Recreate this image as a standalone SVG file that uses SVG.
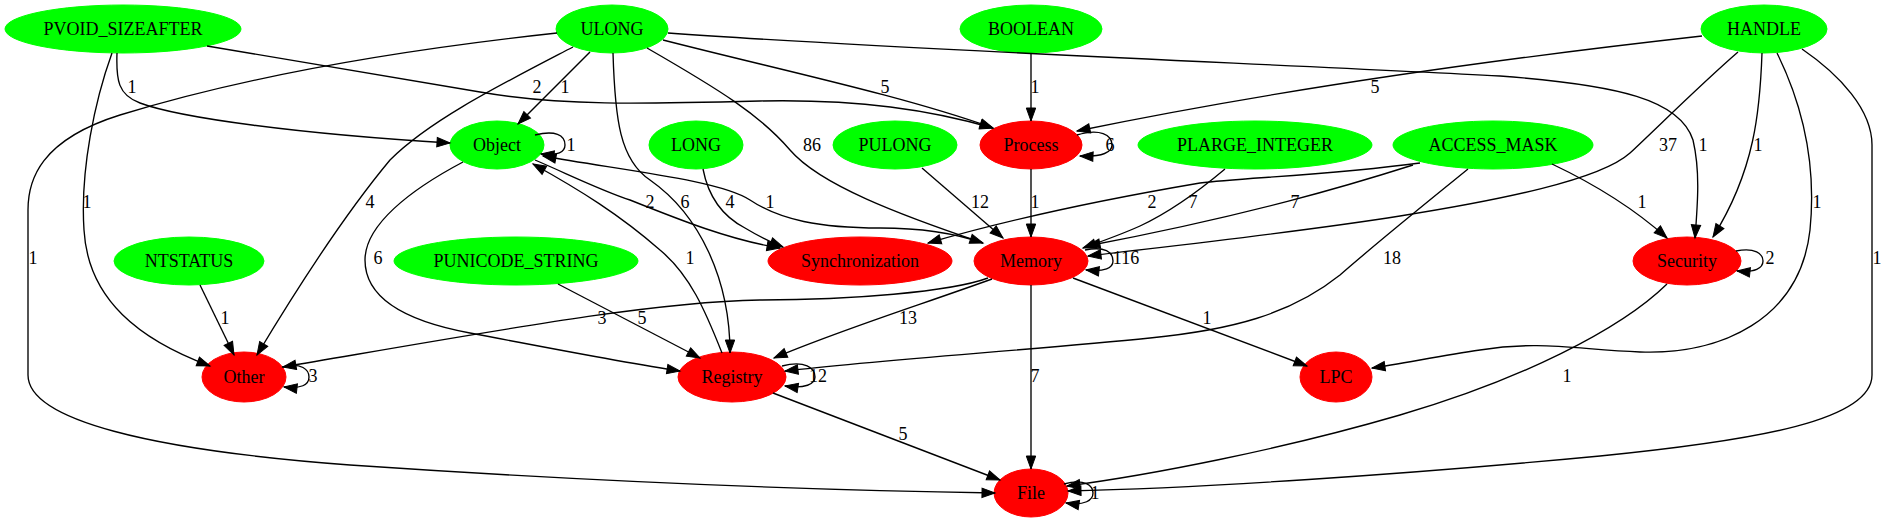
<svg xmlns="http://www.w3.org/2000/svg" width="1887" height="523" viewBox="0 0 1887 523">
<style>
.g{fill:#00ff00;stroke:#00ff00}
.r{fill:#ff0000;stroke:#ff0000}
text{font-family:"Liberation Serif","Times New Roman",serif;font-size:18px;fill:#000;text-anchor:middle}
#edges path{fill:none;stroke:#000;stroke-width:1.35}
#edges path.e{marker-end:url(#ah)}
</style>
<defs>
<marker id="ah" markerWidth="14" markerHeight="10" refX="13" refY="4.7" orient="auto" markerUnits="userSpaceOnUse" overflow="visible"><path d="M0,0 L13,4.7 L0,9.4 z" fill="#000" stroke="#000" stroke-width="1"/></marker>
</defs>
<rect width="1887" height="523" fill="#fff"/>
<g id="n_PVOID_SIZEAFTER"><ellipse class="g" cx="123" cy="29" rx="118" ry="24"/><text x="123" y="35">PVOID_SIZEAFTER</text></g>
<g id="n_ULONG"><ellipse class="g" cx="612" cy="29" rx="56" ry="24"/><text x="612" y="35">ULONG</text></g>
<g id="n_BOOLEAN"><ellipse class="g" cx="1031" cy="29" rx="71" ry="24"/><text x="1031" y="35">BOOLEAN</text></g>
<g id="n_HANDLE"><ellipse class="g" cx="1764" cy="29" rx="63" ry="24"/><text x="1764" y="35">HANDLE</text></g>
<g id="n_Object"><ellipse class="g" cx="497" cy="145" rx="47" ry="24"/><text x="497" y="151">Object</text></g>
<g id="n_LONG"><ellipse class="g" cx="696" cy="145" rx="47" ry="24"/><text x="696" y="151">LONG</text></g>
<g id="n_PULONG"><ellipse class="g" cx="895" cy="145" rx="62" ry="24"/><text x="895" y="151">PULONG</text></g>
<g id="n_Process"><ellipse class="r" cx="1031" cy="145" rx="51" ry="24"/><text x="1031" y="151">Process</text></g>
<g id="n_PLARGE_INTEGER"><ellipse class="g" cx="1255" cy="145" rx="117" ry="24"/><text x="1255" y="151">PLARGE_INTEGER</text></g>
<g id="n_ACCESS_MASK"><ellipse class="g" cx="1493" cy="145" rx="100" ry="24"/><text x="1493" y="151">ACCESS_MASK</text></g>
<g id="n_NTSTATUS"><ellipse class="g" cx="189" cy="261" rx="75" ry="24"/><text x="189" y="267">NTSTATUS</text></g>
<g id="n_PUNICODE_STRING"><ellipse class="g" cx="516" cy="261" rx="122" ry="24"/><text x="516" y="267">PUNICODE_STRING</text></g>
<g id="n_Synchronization"><ellipse class="r" cx="860" cy="261" rx="92" ry="24"/><text x="860" y="267">Synchronization</text></g>
<g id="n_Memory"><ellipse class="r" cx="1031" cy="261" rx="57" ry="24"/><text x="1031" y="267">Memory</text></g>
<g id="n_Security"><ellipse class="r" cx="1687" cy="261" rx="54" ry="24"/><text x="1687" y="267">Security</text></g>
<g id="n_Other"><ellipse class="r" cx="244" cy="377" rx="42" ry="25"/><text x="244" y="383">Other</text></g>
<g id="n_Registry"><ellipse class="r" cx="732" cy="377" rx="54" ry="25"/><text x="732" y="383">Registry</text></g>
<g id="n_LPC"><ellipse class="r" cx="1336" cy="377" rx="36" ry="25"/><text x="1336" y="383">LPC</text></g>
<g id="n_File"><ellipse class="r" cx="1031" cy="493" rx="37" ry="24"/><text x="1031" y="499">File</text></g>
<g id="edges">
<path class="e" d="M117,53 C116,80 118,95 140,103 C180,118 300,134 450,143"/>
<path class="e" d="M207,46 L480,92 C560,106 640,104 760,101 C860,99 930,110 993,128"/>
<path class="e" d="M112,53 C95,100 80,170 84,230 C88,300 140,340 210,366"/>
<path class="e" d="M557,33 C400,50 250,75 120,115 C40,140 28,180 28,210 L28,375 C28,420 150,450 350,465 C600,482 800,490 995,493"/>
<path class="e" d="M573,47 C500,85 430,120 390,160 C340,220 290,300 257,355"/>
<path class="e" d="M590,52 L518,124"/>
<path class="e" d="M613,53 C615,120 620,160 650,180 C700,215 730,280 730,353"/>
<path class="e" d="M647,48 C720,90 760,115 790,150 C820,185 900,215 983,243"/>
<path class="e" d="M663,40 C780,70 900,95 993,128"/>
<path class="e" d="M668,33 C900,50 1300,65 1500,76 C1620,85 1680,100 1693,140 C1700,170 1698,200 1695,238"/>
<path class="e" d="M1031,53 L1031,121"/>
<path class="e" d="M1702,36 C1550,53 1300,85 1077,131"/>
<path class="e" d="M1738,52 C1700,85 1660,125 1630,153 C1600,180 1500,200 1400,216 C1300,232 1180,245 1088,256"/>
<path class="e" d="M1762,53 C1760,110 1755,170 1713,237"/>
<path class="e" d="M1777,53 C1810,120 1815,180 1810,230 C1800,320 1720,355 1640,352 C1580,350 1540,340 1480,350 C1440,356 1400,364 1372,368"/>
<path class="e" d="M1802,49 C1840,75 1872,110 1872,145 L1872,375 C1872,420 1760,440 1600,456 C1400,475 1200,488 1068,491"/>
<path class="e" d="M535,135 C555,130 565,135 565,145 C565,152 558,156 541,154"/>
<path class="e" d="M535,160 C570,175 600,190 630,200 C680,220 730,240 780,248"/>
<path class="e" d="M463,162 C410,190 365,225 365,260 C365,295 400,320 470,333 C560,350 620,362 680,371"/>
<path class="e" d="M983,243 C960,235 930,228 880,228 C820,228 780,220 750,200 C720,180 620,170 543,156"/>
<path class="e" d="M703,169 C708,195 720,215 745,228 C760,237 770,242 783,247"/>
<path class="e" d="M922,168 L1003,238"/>
<path class="e" d="M1077,135 C1100,128 1112,135 1112,145 C1112,152 1103,157 1080,156"/>
<path class="e" d="M1031,169 L1031,237"/>
<path class="e" d="M1225,169 C1200,190 1170,212 1140,226 C1120,235 1100,242 1083,248"/>
<path class="e" d="M1413,165 C1350,185 1250,215 1087,246"/>
<path class="e" d="M1420,163 C1330,175 1240,178 1200,183 C1100,200 1000,222 928,243"/>
<path class="e" d="M1552,164 C1590,182 1630,205 1667,238"/>
<path class="e" d="M1468,169 C1430,200 1380,240 1340,275 C1290,315 1230,330 1150,338 C1030,350 880,360 785,371"/>
<path class="e" d="M1085,250 C1105,246 1113,252 1113,261 C1113,268 1105,272 1086,270"/>
<path class="e" d="M988,278 C950,292 850,300 760,300 C650,302 500,330 283,367"/>
<path class="e" d="M992,279 C920,305 840,330 774,358"/>
<path class="e" d="M1073,278 L1307,366"/>
<path class="e" d="M1031,285 L1031,469"/>
<path class="e" d="M782,366 C805,360 815,368 815,377 C815,384 805,389 785,386"/>
<path class="e" d="M722,353 C705,310 690,275 660,250 C620,215 580,190 533,164"/>
<path class="e" d="M773,393 L1000,480"/>
<path class="e" d="M200,285 L234,355"/>
<path class="e" d="M558,284 L700,358"/>
<path class="e" d="M1736,251 C1755,247 1763,254 1763,261 C1763,268 1755,273 1737,271"/>
<path class="e" d="M1667,284 C1620,330 1520,380 1400,415 C1280,450 1150,475 1067,486"/>
<path class="e" d="M282,367 C302,362 309,370 309,377 C309,385 301,389 284,387"/>
<path class="e" d="M1064,484 C1085,478 1093,486 1093,493 C1093,500 1085,506 1066,503"/>
</g>
<g id="labels">
<text x="132" y="93">1</text>
<text x="87" y="208">1</text>
<text x="33" y="264">1</text>
<text x="370" y="208">4</text>
<text x="378" y="264">6</text>
<text x="537" y="93">2</text>
<text x="565" y="93">1</text>
<text x="571" y="151">1</text>
<text x="650" y="208">2</text>
<text x="685" y="208">6</text>
<text x="730" y="208">4</text>
<text x="770" y="208">1</text>
<text x="812" y="151">86</text>
<text x="885" y="93">5</text>
<text x="690" y="264">1</text>
<text x="1035" y="93">1</text>
<text x="1375" y="93">5</text>
<text x="1110" y="151">6</text>
<text x="980" y="208">12</text>
<text x="1035" y="208">1</text>
<text x="1152" y="208">2</text>
<text x="1193" y="208">7</text>
<text x="1295" y="208">7</text>
<text x="1126" y="264">116</text>
<text x="1392" y="264">18</text>
<text x="1668" y="151">37</text>
<text x="1703" y="151">1</text>
<text x="1758" y="151">1</text>
<text x="1642" y="208">1</text>
<text x="1817" y="208">1</text>
<text x="1877" y="264">1</text>
<text x="1770" y="264">2</text>
<text x="225" y="324">1</text>
<text x="313" y="382">3</text>
<text x="602" y="324">3</text>
<text x="642" y="324">5</text>
<text x="908" y="324">13</text>
<text x="818" y="382">12</text>
<text x="1207" y="324">1</text>
<text x="1035" y="382">7</text>
<text x="1567" y="382">1</text>
<text x="903" y="440">5</text>
<text x="1095" y="499">1</text>
</g>
</svg>
